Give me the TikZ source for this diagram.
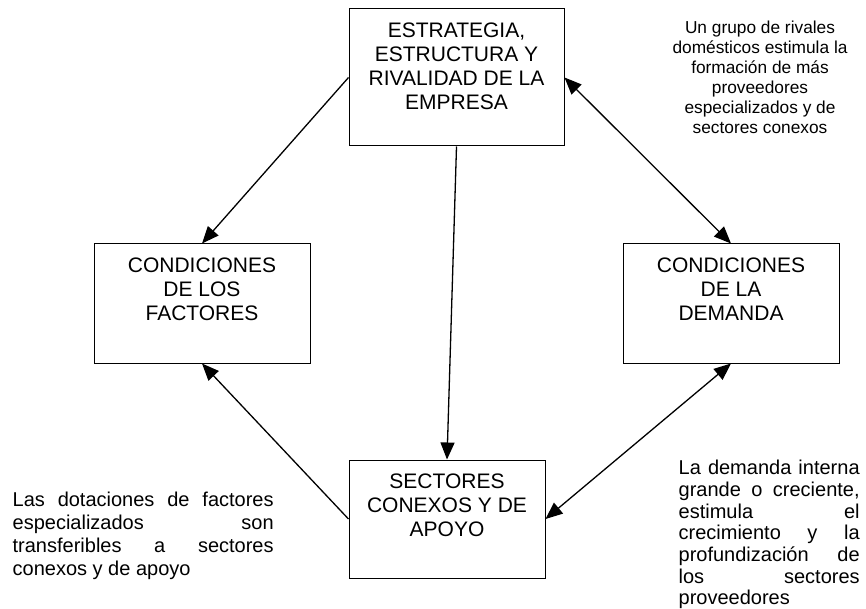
\documentclass[tikz,border=0pt]{standalone}
\usepackage{fontspec}
\setmainfont{Liberation Sans}
\usetikzlibrary{arrows.meta}

\tolerance=10000
\hbadness=10000
\hyphenpenalty=10000

\begin{document}
\begin{tikzpicture}[
        x = 1pt, y = -1pt, % pixel units, y going down
        > = {Triangle[length=17pt, width=14pt]}, % arrow head style
        line width = 1.3pt % line style
      ]

      \tikzset{
        box/.style = {
          draw = black,
          line width = 1pt,
          fill = white,
          inner sep = 0pt
        },
        boxtext/.style = {
          anchor = north,
          yshift = -13.5pt,
          align = center,
          inner sep = 0pt,
          font = \fontsize{21}{24}\selectfont
        },
        notetext/.style = {
          inner sep = 0pt,
          font = \fontsize{20}{23}\selectfont
        }
      }

      \useasboundingbox (0,0) rectangle (866,609);

      % the four boxes
      \node[box, minimum width = 215pt, minimum height = 137pt,
        label = {[boxtext]north:{ESTRATEGIA,\\ESTRUCTURA Y\\RIVALIDAD DE LA\\EMPRESA}}] (E) at (456.5,77.5) {};
      \node[box, minimum width = 216pt, minimum height = 119pt,
        label = {[boxtext]north:{CONDICIONES\\DE LOS\\FACTORES}}] (F) at (202,303.5) {};
      \node[box, minimum width = 216pt, minimum height = 119pt,
        label = {[boxtext]north:{CONDICIONES\\DE LA\\DEMANDA}}] (D) at (731,303.5) {};
      \node[box, minimum width = 196pt, minimum height = 118pt,
        label = {[boxtext]north:{SECTORES\\CONEXOS Y DE\\APOYO}}] (S) at (447,519) {};

      % side notes
      \node[notetext, anchor = north, align = center, font = \fontsize{17.3}{20}\selectfont] (nE) at (760,20.5)
        {Un grupo de rivales\\domésticos estimula la\\formación de más\\proveedores\\especializados y de\\sectores conexos};
      \node[notetext, anchor = north west] (nF) at (12,491)
        {\parbox[t]{261pt}{Las dotaciones de factores\linebreak especializados son\linebreak transferibles a sectores\linebreak conexos y de apoyo}};
      \node[notetext, anchor = north west, font = \fontsize{20}{21.7}\selectfont] (nD) at (678,459.5)
        {\parbox[t]{181pt}{La demanda interna\linebreak grande o creciente,\linebreak estimula el\linebreak crecimiento y la\linebreak profundización de\linebreak los sectores\linebreak proveedores}};

      \path[->] (E.west) edge (F.north);
      \path[->] (E.south) edge (S.north);
      \path[->] (S.west) edge (F.south);
      \path[<->] (E.east) edge (D.north);
      \path[<->] (S.east) edge (D.south);
  \end{tikzpicture}
\end{document}
